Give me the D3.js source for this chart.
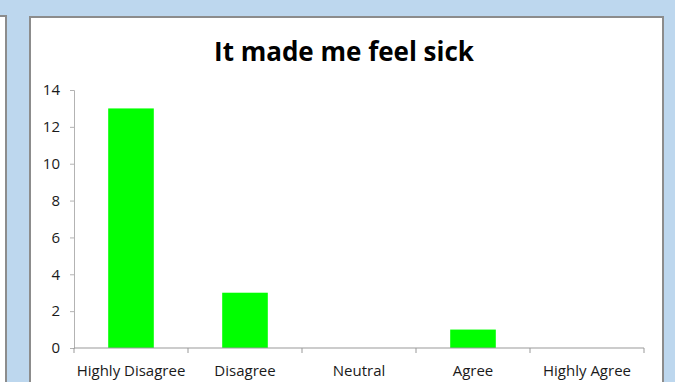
<!DOCTYPE html>
<html>
<head>
<meta charset="utf-8">
<script src="https://cdn.jsdelivr.net/npm/d3@7"></script>
<style>
  html, body { margin: 0; padding: 0; background: #bdd7ee; }
  svg { display: block; }
  text { font-family: "Open Sans", "Noto Sans", sans-serif; fill: #1a1a1a; }
</style>
</head>
<body>
<div id="chart"></div>
<script>
// chart data
var categories = ["Highly Disagree", "Disagree", "Neutral", "Agree", "Highly Agree"];
var counts = [13, 3, 0, 1, 0];
var yTicks = [0, 2, 4, 6, 8, 10, 12, 14];
var title = "It made me feel sick";

var width = 675, height = 382;

var svg = d3.select("#chart").append("svg")
    .attr("width", width)
    .attr("height", height);

// neighbouring panel peeking in on the left
svg.append("rect")
    .attr("x", -10).attr("y", 16)
    .attr("width", 16).attr("height", 400)
    .attr("fill", "#fff")
    .attr("stroke", "#8c8c8c")
    .attr("stroke-width", 2);

// main chart panel
svg.append("rect")
    .attr("x", 30).attr("y", 17)
    .attr("width", 633).attr("height", 400)
    .attr("fill", "#fff")
    .attr("stroke", "#8c8c8c")
    .attr("stroke-width", 2);

var plot = { left: 74, right: 644, top: 90, bottom: 348 };

var x = d3.scaleBand()
    .domain(categories)
    .range([plot.left, plot.right])
    .paddingInner(0.6)
    .paddingOuter(0.3);

var y = d3.scaleLinear()
    .domain([0, 14])
    .range([plot.bottom, plot.top]);

// bars
svg.append("g").selectAll("rect")
    .data(categories)
    .enter().append("rect")
    .attr("x", function (d) { return x(d); })
    .attr("y", function (d, i) { return y(counts[i]); })
    .attr("width", x.bandwidth())
    .attr("height", function (d, i) { return y(0) - y(counts[i]); })
    .attr("fill", "#00ff00");

// y axis
var yAxis = svg.append("g")
    .attr("transform", "translate(" + plot.left + ",0)")
    .call(d3.axisLeft(y).tickValues(yTicks).tickSize(4).tickPadding(10));
yAxis.selectAll("path, line").attr("stroke", "#b3b3b3");
yAxis.selectAll("text")
    .style("font-size", "15px")
    .attr("fill", "#1a1a1a");

// x axis, ticks sit between the categories
var step = (plot.right - plot.left) / categories.length;
var xAxis = svg.append("g")
    .attr("transform", "translate(0," + plot.bottom + ")");
xAxis.append("line")
    .attr("x1", plot.left).attr("x2", plot.right)
    .attr("stroke", "#999");
xAxis.selectAll(".sep")
    .data(d3.range(categories.length + 1))
    .enter().append("line")
    .attr("class", "sep")
    .attr("x1", function (d) { return plot.left + d * step; })
    .attr("x2", function (d) { return plot.left + d * step; })
    .attr("y1", 0).attr("y2", 5)
    .attr("stroke", "#999");
xAxis.selectAll("text")
    .data(categories)
    .enter().append("text")
    .attr("x", function (d) { return x(d) + x.bandwidth() / 2; })
    .attr("y", 28)
    .attr("text-anchor", "middle")
    .style("font-size", "15px")
    .text(function (d) { return d; });

// title
svg.append("text")
    .attr("x", 344)
    .attr("y", 61)
    .attr("text-anchor", "middle")
    .style("font-size", "26px")
    .style("font-weight", "bold")
    .style("fill", "#000")
    .text(title);
</script>
</body>
</html>
